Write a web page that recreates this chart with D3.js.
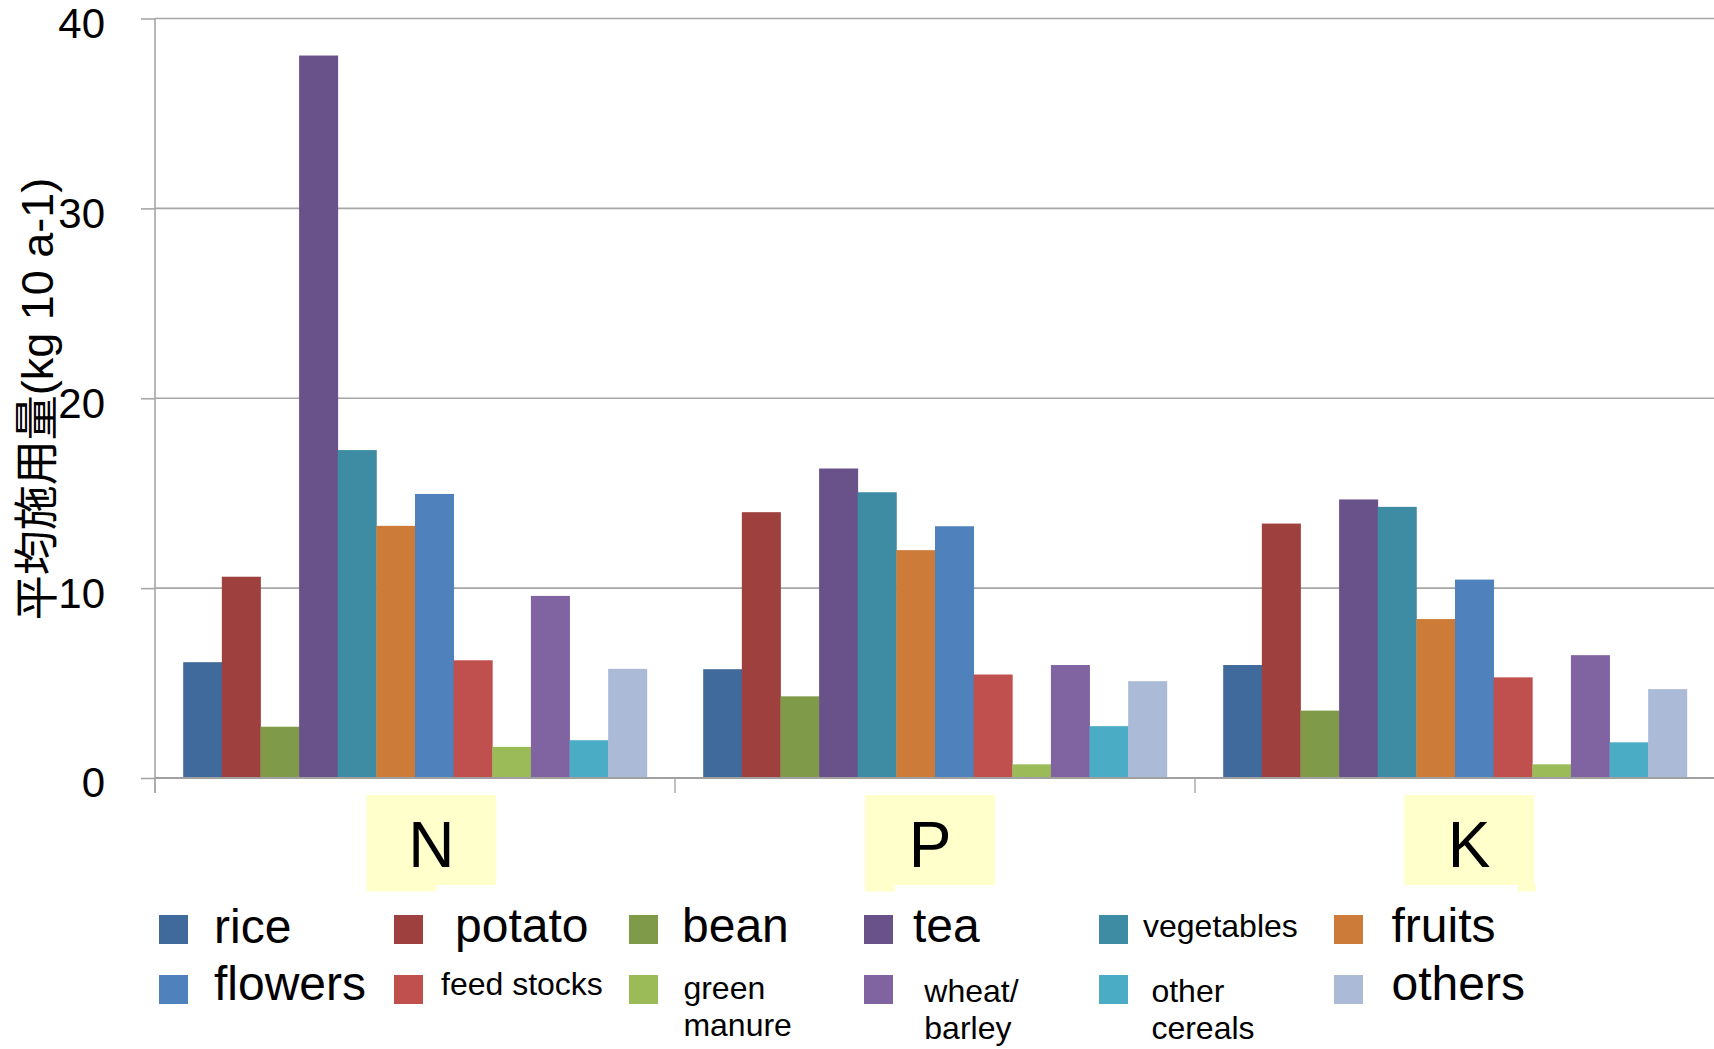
<!DOCTYPE html>
<html>
<head>
<meta charset="utf-8">
<script src="https://cdn.jsdelivr.net/npm/d3@7"></script>
<style>
  html, body { margin: 0; padding: 0; background: #ffffff; }
  svg { display: block; }
  text { font-family: "Liberation Sans", Arial, "Noto Sans CJK JP", sans-serif; fill: #000; }
</style>
</head>
<body>
<svg id="chart" width="1714" height="1049"></svg>
<script>
// ---- data ----
const nutrients = ["N", "P", "K"];
const crops = ["rice", "potato", "bean", "tea", "vegetables", "fruits",
               "flowers", "feed stocks", "green manure", "wheat/barley", "other cereals", "others"];
const valuesN = [6.1, 10.6, 2.7, 38.05, 17.27, 13.28, 14.96, 6.2, 1.64, 9.59, 1.99, 5.75];
const valuesP = [5.73, 14.0, 4.3, 16.3, 15.05, 12.0, 13.26, 5.45, 0.72, 5.95, 2.73, 5.1];
const valuesK = [5.95, 13.4, 3.55, 14.67, 14.28, 8.37, 10.45, 5.3, 0.72, 6.47, 1.88, 4.68];
const yTicks = [0, 10, 20, 30, 40];
const yTitle = "平均施用量(kg 10 a-1)";
const legendLines = [["rice"], ["potato"], ["bean"], ["tea"], ["vegetables"], ["fruits"],
                     ["flowers"], ["feed stocks"], ["green", "manure"], ["wheat/", "barley"],
                     ["other", "cereals"], ["others"]];

// ---- styling ----
const colors = ["#406a9c", "#9e413e", "#7f9a48", "#69518a", "#3d8ca3", "#cc7b39",
                "#4f81bd", "#c0504d", "#9bbb59", "#8064a2", "#4bacc6", "#aabad7"];
const gridColor = "#a6a6a6";

const svg = d3.select("#chart");

const plot = { left: 155, right: 1715, top: 18.5, bottom: 778 };

const x0 = d3.scaleBand().domain(nutrients).range([plot.left, plot.right]).padding(0);
const x1 = d3.scaleBand().domain(crops).range([0, x0.bandwidth()]).paddingInner(0).paddingOuter(0.73);
const y = d3.scaleLinear().domain([0, 40]).range([plot.bottom, plot.top]);

const table = nutrients.map((n, i) => ({
  nutrient: n,
  values: [valuesN, valuesP, valuesK][i].map((v, j) => ({ crop: crops[j], value: v, idx: j }))
}));

// horizontal gridlines
svg.append("g").selectAll("line")
  .data(yTicks.filter(t => t > 0))
  .join("line")
  .attr("x1", plot.left).attr("x2", 1714)
  .attr("y1", d => y(d)).attr("y2", d => y(d))
  .attr("stroke", gridColor).attr("stroke-width", 1.6);

// y axis
const yAxis = d3.axisLeft(y).tickValues(yTicks).tickSize(14).tickSizeOuter(0).tickPadding(36);
const gy = svg.append("g").attr("transform", `translate(${plot.left},0)`).call(yAxis);
gy.select(".domain").remove();
gy.selectAll(".tick line").attr("stroke", gridColor).attr("stroke-width", 1.6);
gy.selectAll(".tick text")
  .attr("font-size", 42)
  .attr("font-family", "'Liberation Sans', Arial, sans-serif")
  .attr("dy", "0.45em")
  .attr("fill", "#000");
svg.append("line")
  .attr("x1", plot.left).attr("x2", plot.left)
  .attr("y1", plot.top).attr("y2", plot.bottom + 15)
  .attr("stroke", gridColor).attr("stroke-width", 1.6);

// bars
svg.append("g").selectAll("g")
  .data(table)
  .join("g")
  .attr("transform", d => `translate(${x0(d.nutrient)},0)`)
  .selectAll("rect")
  .data(d => d.values)
  .join("rect")
  .attr("x", d => x1(d.crop))
  .attr("width", x1.bandwidth() + 0.4)
  .attr("y", d => y(d.value))
  .attr("height", d => y(0) - y(d.value))
  .attr("fill", d => colors[d.idx]);

// x axis line and category separators
svg.append("line")
  .attr("x1", plot.left).attr("x2", 1714)
  .attr("y1", y(0)).attr("y2", y(0))
  .attr("stroke", "#a0a0a0").attr("stroke-width", 2.2);
const boundaries = nutrients.map(n => x0(n)).concat([x0(nutrients[nutrients.length - 1]) + x0.bandwidth()]);
svg.append("g").selectAll("line")
  .data(boundaries)
  .join("line")
  .attr("x1", d => d).attr("x2", d => d)
  .attr("y1", y(0)).attr("y2", y(0) + 15)
  .attr("stroke", gridColor).attr("stroke-width", 1.4);

// category labels on pale yellow boxes
const labelBox = { w: 130, h: 90, top: 795, notchH: 7 };
const labelShift = { N: 16.3, P: -5, K: 14.2 };
const notch = { N: [0, 70], P: [0, 30], K: [113.5, 131.7] };
const gl = svg.append("g").selectAll("g")
  .data(nutrients)
  .join("g")
  .attr("transform", d => `translate(${x0(d) + x0.bandwidth() / 2 + labelShift[d]},0)`);
gl.append("rect")
  .attr("x", -labelBox.w / 2).attr("y", labelBox.top)
  .attr("width", labelBox.w).attr("height", labelBox.h)
  .attr("fill", "#ffffcc");
gl.append("rect")
  .attr("x", d => -labelBox.w / 2 + notch[d][0]).attr("y", labelBox.top + labelBox.h - 0.5)
  .attr("width", d => notch[d][1] - notch[d][0]).attr("height", labelBox.notchH)
  .attr("fill", "#ffffcc");
gl.append("text")
  .attr("x", 0).attr("y", 866.5)
  .attr("text-anchor", "middle")
  .attr("font-size", 64)
  .text(d => d);

// y axis title
svg.append("text")
  .attr("transform", "translate(53,399) rotate(-90)")
  .attr("text-anchor", "middle")
  .attr("font-size", 45)
  .attr("font-family", "'Liberation Sans', Arial, 'Noto Sans CJK JP', sans-serif")
  .text(yTitle);

// legend: 6 columns x 2 rows
const legend = { x: 159, y: 915, colStep: 235, rowStep: 60, sw: 29 };
const legendText = [
  { dx: 55, base: 942.5, size: 48 },   { dx: 61, base: 942, size: 48 },
  { dx: 53, base: 942, size: 48 },     { dx: 49, base: 942, size: 48 },
  { dx: 44, base: 937, size: 32 },     { dx: 57.5, base: 942, size: 48 },
  { dx: 55, base: 1000, size: 48 },    { dx: 47, base: 995, size: 32 },
  { dx: 54.4, base: 999, size: 32 },   { dx: 60.3, base: 1002, size: 32 },
  { dx: 52.4, base: 1002, size: 32 },  { dx: 57.5, base: 1000, size: 48 }
];
const lg = svg.append("g").selectAll("g")
  .data(crops)
  .join("g");
lg.append("rect")
  .attr("x", (d, i) => legend.x + (i % 6) * legend.colStep)
  .attr("y", (d, i) => legend.y + Math.floor(i / 6) * legend.rowStep)
  .attr("width", legend.sw).attr("height", legend.sw)
  .attr("fill", (d, i) => colors[i]);
lg.each(function (d, i) {
  const t = legendText[i];
  const tx = legend.x + (i % 6) * legend.colStep + t.dx;
  const txt = d3.select(this).append("text")
    .attr("font-size", t.size);
  legendLines[i].forEach((line, k) => {
    txt.append("tspan").attr("x", tx).attr("y", t.base + k * 36.5).text(line);
  });
});
</script>
</body>
</html>
